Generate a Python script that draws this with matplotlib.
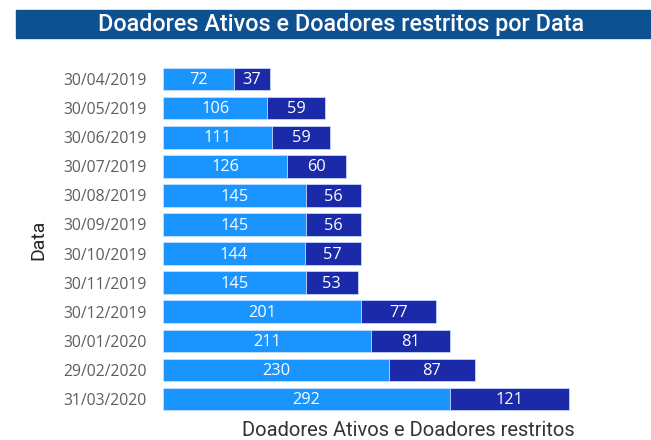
import matplotlib.pyplot as plt
from matplotlib.patches import Rectangle

datas = ['30/04/2019', '30/05/2019', '30/06/2019', '30/07/2019', '30/08/2019',
         '30/09/2019', '30/10/2019', '30/11/2019', '30/12/2019', '30/01/2020',
         '29/02/2020', '31/03/2020']
ativos = [72, 106, 111, 126, 145, 145, 144, 145, 201, 211, 230, 292]
restritos = [37, 59, 59, 60, 56, 56, 57, 53, 77, 81, 87, 121]

cor_ativos = '#1A94FF'
cor_restritos = '#1B2AA8'

fig = plt.figure(figsize=(6.51, 4.4), dpi=100)
ax = fig.add_axes([163 / 651, 0.060, (640 - 163) / 651, 0.7936])

y = list(range(len(datas)))
ax.barh(y, ativos, height=0.78, color=cor_ativos, edgecolor='#cfe3ff', linewidth=0.5)
ax.barh(y, restritos, left=ativos, height=0.78, color=cor_restritos,
        edgecolor='#cfe3ff', linewidth=0.5)

for i in y:
    ax.text(ativos[i] / 2, i + 0.04, str(ativos[i]), ha='center', va='center',
            color='white', fontsize=11.8, family='Open Sans')
    ax.text(ativos[i] + restritos[i] / 2, i + 0.04, str(restritos[i]), ha='center',
            va='center', color='white', fontsize=11.8, family='Open Sans')

ax.set_xlim(0, 485)
ax.set_ylim(len(datas) - 0.5, -0.5)
ax.set_yticks(y)
ax.set_yticklabels(datas, family='Open Sans', fontsize=11.3, color='#605E5C')
ax.tick_params(axis='y', length=0, pad=12)
ax.set_xticks([])
for s in ax.spines.values():
    s.set_visible(False)

fig.text(408 / 651, 1 - 430 / 440, 'Doadores Ativos e Doadores restritos',
         ha='center', va='center', family='Roboto', fontsize=14.5, color='#333333')
fig.text(38 / 651, 1 - 240 / 440, 'Data', rotation=90, ha='center', va='center',
         family='Roboto', fontsize=14, color='#252423')

# faixa do título
fig.patches.append(Rectangle((16 / 651, 1 - 38 / 440), 1, 28 / 440,
                             transform=fig.transFigure, color='#0E5191', zorder=0))
fig.text(341 / 651, 1 - 24 / 440, 'Doadores Ativos e Doadores restritos por Data',
         ha='center', va='center', color='white', fontsize=16.8, fontweight='medium',
         family='Roboto')

fig.savefig('out.png', dpi=100)
